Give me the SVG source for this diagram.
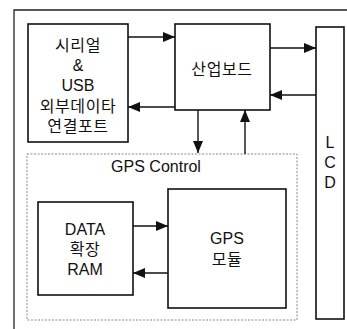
<svg xmlns="http://www.w3.org/2000/svg" width="347" height="329" viewBox="0 0 347 329">
  <defs>
    <marker id="arr" viewBox="0 0 12 10" refX="12" refY="5" markerWidth="12" markerHeight="10" markerUnits="userSpaceOnUse" orient="auto">
      <path d="M0,0 L12,5 L0,10 Z" fill="#111"/>
    </marker>
  </defs>
  <style>
    .box { fill: #fff; stroke: #111; stroke-width: 1.6; }
    .frame { fill: none; stroke: #222; stroke-width: 1.3; }
    .dash { fill: none; stroke: #888; stroke-width: 1; stroke-dasharray: 2 1.5; }
    .wire { fill: none; stroke: #111; stroke-width: 1.4; marker-end: url(#arr); }
    text { font-family: "Liberation Sans", "Noto Sans CJK KR", sans-serif; font-size: 16px; fill: #111; text-anchor: middle; }
    .ko { letter-spacing: 0.6px; }
  </style>
  <rect width="347" height="329" fill="#fff"/>

  <!-- outer frame -->
  <path class="frame" d="M14,329 V10 H347"/>

  <!-- GPS control region -->
  <g id="gps-control">
    <rect class="dash" x="27" y="154" width="270" height="166"/>
    <text x="156" y="172">GPS Control</text>
  </g>

  <g id="serial-usb">
    <rect class="box" x="28" y="24" width="100" height="118"/>
    <text class="ko" x="78" y="51">시리얼</text>
    <text x="78" y="71">&amp;</text>
    <text x="78" y="91">USB</text>
    <text class="ko" x="78" y="112">외부데이타</text>
    <text class="ko" x="78" y="132">연결포트</text>
  </g>

  <g id="board">
    <rect class="box" x="175" y="24" width="95" height="86"/>
    <text class="ko" x="222" y="75">산업보드</text>
  </g>

  <g id="lcd">
    <rect class="box" x="316" y="27" width="28" height="292"/>
    <text x="330" y="148" font-size="15">L</text>
    <text x="330" y="168" font-size="15">C</text>
    <text x="330" y="188" font-size="15">D</text>
  </g>

  <g id="data-ram">
    <rect class="box" x="38" y="202" width="95" height="93"/>
    <text x="85" y="235">DATA</text>
    <text class="ko" x="85" y="255">확장</text>
    <text x="85" y="275">RAM</text>
  </g>

  <g id="gps-module">
    <rect class="box" x="168" y="189" width="118" height="119"/>
    <text x="227" y="244">GPS</text>
    <text class="ko" x="227" y="265">모듈</text>
  </g>

  <g id="connectors">
    <line class="wire" x1="128" y1="37" x2="175" y2="37"/>
    <line class="wire" x1="175" y1="107" x2="128" y2="107"/>
    <line class="wire" x1="270" y1="48" x2="316" y2="48"/>
    <line class="wire" x1="316" y1="95" x2="270" y2="95"/>
    <line class="wire" x1="198" y1="110" x2="198" y2="153"/>
    <line class="wire" x1="245" y1="154" x2="245" y2="110"/>
    <line class="wire" x1="133" y1="226" x2="168" y2="226"/>
    <line class="wire" x1="168" y1="273" x2="133" y2="273"/>
  </g>
</svg>
